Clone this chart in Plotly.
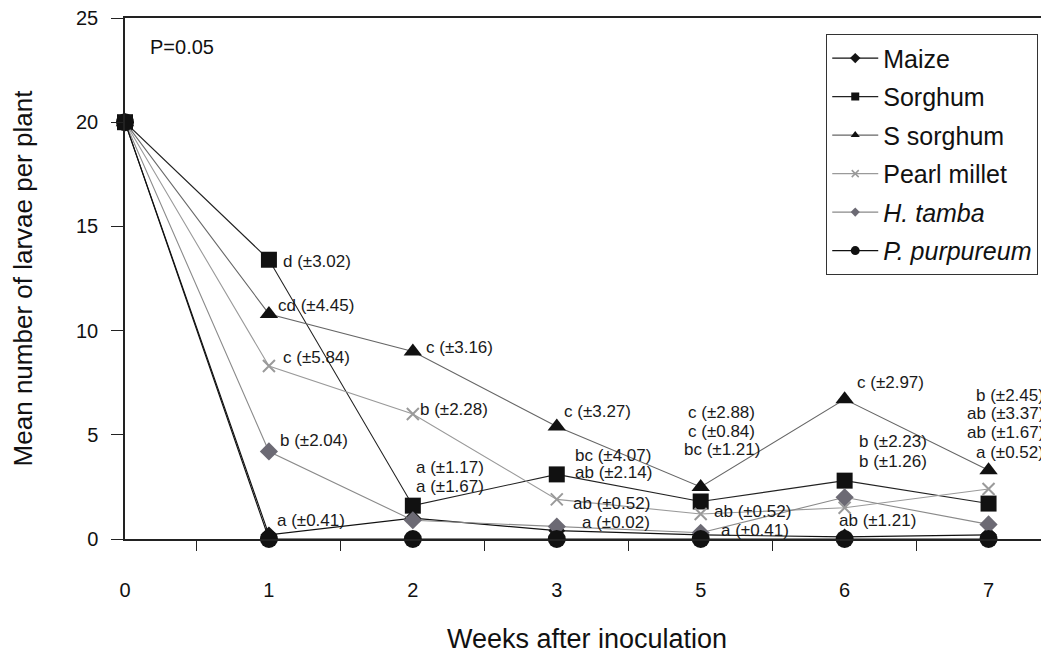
import plotly.graph_objects as go

weeks = ["0", "1", "2", "3", "5", "6", "7"]
maize = [20, 0.2, 1.0, 0.4, 0.2, 0.1, 0.2]
sorghum = [20, 13.4, 1.6, 3.1, 1.8, 2.8, 1.7]
s_sorghum = [20, 10.8, 9.0, 5.4, 2.5, 6.7, 3.3]
pearl_millet = [20, 8.3, 6.0, 1.9, 1.2, 1.5, 2.4]
h_tamba = [20, 4.2, 0.9, 0.6, 0.3, 2.0, 0.7]
p_purpureum = [20, 0, 0, 0, 0, 0, 0]

series_names = ["Maize", "Sorghum", "S sorghum", "Pearl millet", "<i>H. tamba</i>", "<i>P. purpureum</i>"]
series_values = [maize, sorghum, s_sorghum, pearl_millet, h_tamba, p_purpureum]

# (category index, y, text, xshift, xanchor)
labels = [
    (1, 13.3, "d (±3.02)", 12, "left"),
    (1, 11.2, "cd (±4.45)", 7, "left"),
    (1, 8.7, "c (±5.84)", 12, "left"),
    (1, 4.75, "b (±2.04)", 9, "left"),
    (1, 0.9, "a (±0.41)", 6, "left"),
    (2, 9.2, "c (±3.16)", 11, "left"),
    (2, 6.2, "b (±2.28)", 5, "left"),
    (2, 3.45, "a (±1.17)", 1, "left"),
    (2, 2.5, "a (±1.67)", 1, "left"),
    (3, 6.14, "c (±3.27)", 5, "left"),
    (3, 4.03, "bc (±4.07)", 16, "left"),
    (3, 3.2, "ab (±2.14)", 16, "left"),
    (3, 1.68, "ab (±0.52)", 14, "left"),
    (3, 0.8, "a (±0.02)", 23, "left"),
    (4, 6.05, "c (±2.88)", 21, "center"),
    (4, 5.18, "c (±0.84)", 21, "center"),
    (4, 4.3, "bc (±1.21)", 21, "center"),
    (4, 1.34, "ab (±0.52)", 11, "left"),
    (4, 0.43, "a (±0.41)", 18, "left"),
    (5, 7.53, "c (±2.97)", 10, "left"),
    (5, 4.70, "b (±2.23)", 12, "left"),
    (5, 3.74, "b (±1.26)", 12, "left"),
    (5, 0.91, "ab (±1.21)", -8, "left"),
    (6, 6.91, "b (±2.45)", 57, "right"),
    (6, 6.0, "ab (±3.37)", 57, "right"),
    (6, 5.09, "ab (±1.67)", 57, "right"),
    (6, 4.17, "a (±0.52)", 57, "right"),
]

styles = [
    dict(symbol="diamond", size=13, color="#151515", line="#111111", lsize=8),
    dict(symbol="square", size=16, color="#111111", line="#222222", lsize=8),
    dict(symbol="triangle-up", size=16, color="#111111", line="#666666", lsize=8),
    dict(symbol="x-thin", size=12, color="#9a9a9a", line="#9a9a9a", lsize=7),
    dict(symbol="diamond", size=14, color="#6c6a74", line="#8a8a8a", lsize=7),
    dict(symbol="circle", size=18, color="#111111", line="#111111", lsize=9),
]

x_idx = list(range(len(weeks)))
fig = go.Figure()
for name, vals, st in zip(series_names, series_values, styles):
    mk = dict(symbol=st["symbol"], size=st["size"], color=st["color"])
    if st["symbol"] == "x-thin":
        mk["line"] = dict(color=st["color"], width=2)
    fig.add_trace(go.Scatter(
        x=x_idx, y=vals, mode="lines+markers", name=name, showlegend=False,
        line=dict(color=st["line"], width=1.1), marker=mk, cliponaxis=False))

for i, (name, st) in enumerate(zip(series_names, styles)):
    mk = dict(symbol=st["symbol"], size=st["lsize"], color=st["color"])
    if st["symbol"] == "x-thin":
        mk["line"] = dict(color=st["color"], width=1.5)
    fig.add_trace(go.Scatter(
        x=[None], y=[None], mode="lines+markers", name=name, legendgroup=f"g{i}",
        line=dict(color=st["line"], width=1.1), marker=mk))

for ci, yv, txt, xs, xa in labels:
    fig.add_annotation(x=ci, y=yv, text=txt, xshift=xs, xanchor=xa, yanchor="middle",
                       showarrow=False, font=dict(size=17, color="#1a1a1a"))

fig.add_annotation(xref="paper", yref="paper", x=0.025, y=0.944, text="P=0.05",
                   xanchor="left", yanchor="middle", showarrow=False,
                   font=dict(size=20, color="#111111"))

fig.update_layout(
    width=1041, height=649,
    margin=dict(l=117, r=0, t=10, b=118),
    paper_bgcolor="white", plot_bgcolor="white",
    font=dict(family="Liberation Sans, Arial, sans-serif", color="#111111"),
    showlegend=True,
    legend=dict(x=0.7587, y=0.969, xanchor="left", yanchor="top",
                bordercolor="#333333", borderwidth=1.2, bgcolor="white",
                font=dict(size=25), tracegroupgap=3, itemwidth=46),
    xaxis=dict(range=[0, 6.42], tickmode="array", tickvals=x_idx, ticktext=weeks,
               ticks="", showgrid=False, zeroline=False,
               showline=True, linecolor="#222222", linewidth=1.5, mirror=True,
               tickfont=dict(size=20), ticklabelstandoff=32,
               minor=dict(tickmode="array", tickvals=[0.5, 1.5, 2.5, 3.5, 4.5, 5.5],
                          ticks="outside", ticklen=10, tickcolor="#222222", tickwidth=1.2,
                          showgrid=False),
               title=dict(text="Weeks after inoculation", font=dict(size=27), standoff=29)),
    yaxis=dict(range=[0, 25], tickmode="array", tickvals=[0, 5, 10, 15, 20, 25],
               ticks="outside", ticklen=12, tickcolor="#222222", tickwidth=1.2,
               showgrid=False, zeroline=False, ticklabeloverflow="allow",
               showline=True, linecolor="#222222", linewidth=1.5,
               tickfont=dict(size=20), ticklabelstandoff=9,
               title=dict(text="Mean number of larvae per plant", font=dict(size=26), standoff=37)),
)

fig.write_html("out.html")
